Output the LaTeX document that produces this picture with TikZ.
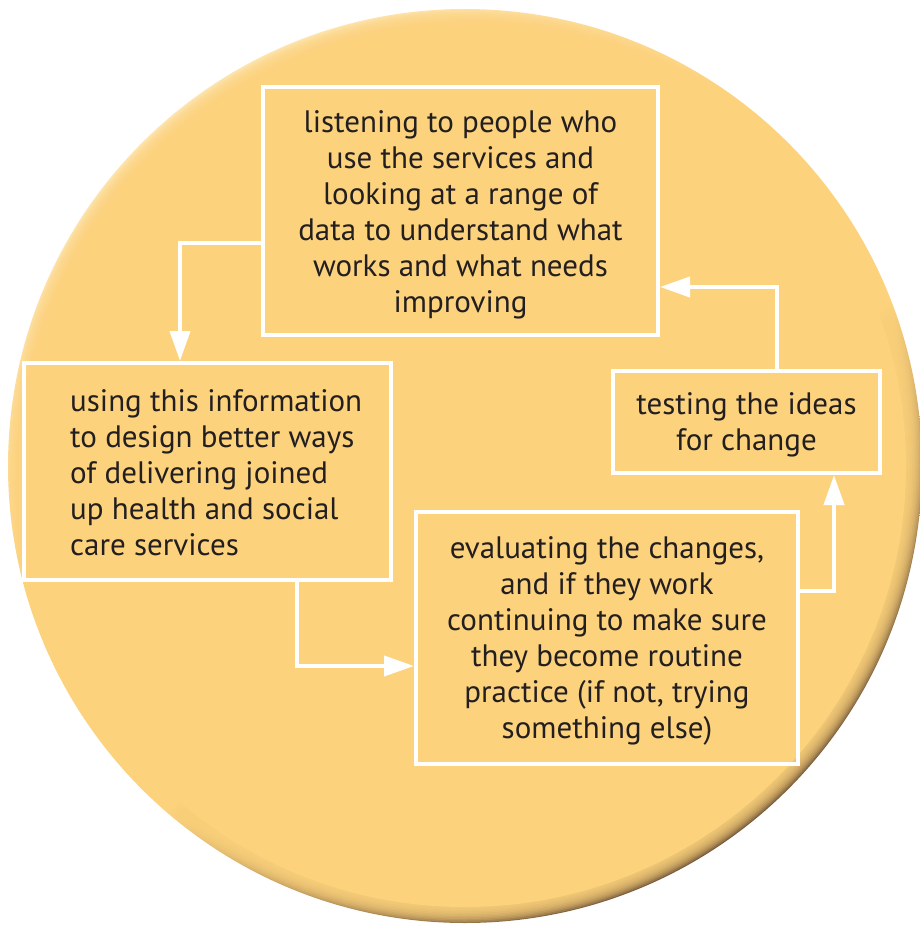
\documentclass[tikz,border=0pt]{standalone}
\usepackage{fontspec}
\setmainfont{PT Sans}
\usetikzlibrary{arrows.meta}

\definecolor{disc}{HTML}{FCD27C}
\definecolor{rimdark}{HTML}{76593A}
\definecolor{rimlight}{HTML}{FEE6B4}
\definecolor{ink}{HTML}{231F20}

% rim of the disc: dark below, light above
\pgfdeclareverticalshading{rim}{100bp}{color(0bp)=(rimdark); color(25bp)=(rimdark); color(44bp)=(disc); color(58bp)=(disc); color(75bp)=(rimlight); color(100bp)=(rimlight)}

\begin{document}
\begin{tikzpicture}[x=1pt,y=-1pt,
  box/.style={draw=white, line width=4pt, inner sep=0pt},
  txt/.style={font=\fontsize{31}{36}\selectfont, text=ink, inner sep=0pt},
  conn/.style={draw=white, line width=4pt, -{Triangle[length=30pt,width=20pt]}}]
\useasboundingbox (0,0) rectangle (919,926);

% the disc with a soft bevelled edge
\shade[shading=rim, shading angle=35] (465,466) circle[radius=457pt];
\foreach \r in {456,454.5,...,442}
  \fill[disc, fill opacity=0.2] (465,466) circle[radius=\r pt];
\fill[disc] (465,466) circle[radius=441pt];

% steps of the cycle
\node[box, minimum width=395pt, minimum height=248pt] (b1) at (460.5,211) {};
\node[txt, align=center] (t1) at ([yshift=-3.5pt]b1.center)
  {listening to people who\\use the services and\\looking at a range of\\data to understand what\\works and what needs\\improving};

\node[box, minimum width=367pt, minimum height=217pt] (b2) at (207.5,471.5) {};
\node[txt, align=left, anchor=west] (t2) at ([xshift=48pt,yshift=-1pt]b2.west)
  {using this information\\to design better ways\\of delivering joined\\up health and social\\care services};

\node[box, minimum width=267pt, minimum height=102pt] (b3) at (746.5,422) {};
\node[txt, align=center] (t3) at ([yshift=-3pt]b3.center)
  {testing the ideas\\for change};

\node[box, minimum width=382pt, minimum height=252pt] (b4) at (607,638) {};
\node[txt, align=center] (t4) at ([yshift=-3pt]b4.center)
  {evaluating the changes,\\and if they work\\continuing to make sure\\they become routine\\practice (if not, trying\\something else)};

% connectors
\draw[conn] ([yshift=-32pt]b1.west) -| ([xshift=-27.5pt]b2.north);
\draw[conn] ([xshift=89.5pt]b2.south) |- ([yshift=-28pt]b4.west);
\draw[conn] ([yshift=47pt]b4.east) -| ([xshift=87.5pt]b3.south);
\draw[conn] ([xshift=30.5pt]b3.north) |- ([yshift=-76pt]b1.east);
\end{tikzpicture}
\end{document}
